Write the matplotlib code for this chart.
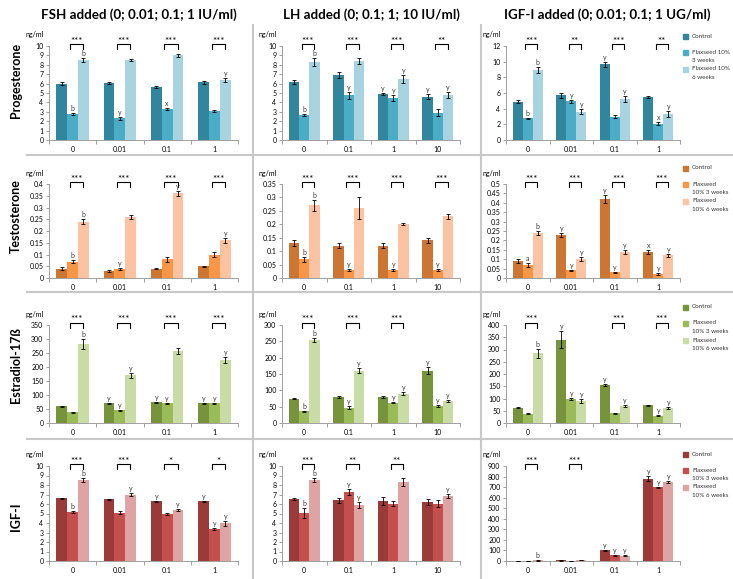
import matplotlib.pyplot as plt
from matplotlib.lines import Line2D
from matplotlib.patches import Rectangle
from matplotlib.ticker import FuncFormatter, MultipleLocator
import numpy as np

plt.rcParams['font.family'] = ['Lato', 'DejaVu Sans']

W, H = 733, 579

fsh_doses = ['0', '0.01', '0.1', '1']
lh_doses = ['0', '0.1', '1', '10']
igf_doses = ['0', '0.01', '0.1', '1']

col_titles = ['FSH added (0; 0.01; 0.1; 1 IU/ml)',
              'LH added (0; 0.1; 1; 10 IU/ml)',
              'IGF-I added (0; 0.01; 0.1; 1 UG/ml)']
row_titles = ['Progesterone', 'Testosterone', 'Estradiol-17ß', 'IGF-I']
units = ['ng/ml', 'ng/ml', 'pg/ml', 'ng/ml']

legend_first = ['Control', 'Flaxseed 10%\n3 weeks', 'Flaxseed 10%\n6 weeks']
legend_other = ['Control', 'Flaxseed\n10% 3 weeks', 'Flaxseed\n10% 6 weeks']

# each inner list: control, flaxseed 3 weeks, flaxseed 6 weeks
prog_fsh = [[6.0, 2.8, 8.5], [6.1, 2.3, 8.55], [5.65, 3.3, 9.0], [6.15, 3.1, 6.35]]
prog_fsh_err = [[0.15, 0.1, 0.2], [0.1, 0.15, 0.1], [0.1, 0.1, 0.2], [0.15, 0.1, 0.2]]
prog_fsh_lab = [['', 'b', 'b'], ['', 'y', ''], ['', 'x', ''], ['', '', 'y']]
prog_fsh_sig = ['***', '***', '***', '***']

prog_lh = [[6.2, 2.7, 8.3], [6.9, 4.75, 8.4], [4.85, 4.5, 6.5], [4.6, 2.9, 4.8]]
prog_lh_err = [[0.2, 0.1, 0.4], [0.35, 0.35, 0.3], [0.1, 0.3, 0.4], [0.25, 0.35, 0.35]]
prog_lh_lab = [['', 'b', 'b'], ['', 'y', ''], ['y', 'y', 'y'], ['y', '', 'y']]
prog_lh_sig = ['***', '***', '***', '**']

prog_igf = [[4.9, 2.75, 8.95], [5.7, 4.95, 3.6], [9.65, 3.0, 5.2], [5.45, 2.1, 3.35]]
prog_igf_err = [[0.2, 0.1, 0.35], [0.35, 0.2, 0.3], [0.3, 0.15, 0.4], [0.15, 0.2, 0.35]]
prog_igf_lab = [['', 'b', 'b'], ['', 'y', 'y'], ['y', '', 'y'], ['', 'x', 'y']]
prog_igf_sig = ['***', '**', '***', '**']

test_fsh = [[0.04, 0.07, 0.24], [0.03, 0.04, 0.26], [0.04, 0.08, 0.36], [0.05, 0.10, 0.16]]
test_fsh_err = [[0.005, 0.005, 0.01], [0.005, 0.004, 0.01], [0.003, 0.01, 0.01], [0.003, 0.01, 0.01]]
test_fsh_lab = [['', 'b', 'b'], ['', 'y', ''], ['', '', 'y'], ['', '', 'y']]
test_fsh_sig = ['***', '***', '***', '***']

test_lh = [[0.13, 0.07, 0.27], [0.12, 0.03, 0.26], [0.12, 0.03, 0.20], [0.14, 0.03, 0.23]]
test_lh_err = [[0.01, 0.01, 0.02], [0.01, 0.003, 0.04], [0.01, 0.005, 0.003], [0.01, 0.003, 0.01]]
test_lh_lab = [['', 'b', 'b'], ['', 'y', ''], ['', 'y', ''], ['', 'y', '']]
test_lh_sig = ['***', '***', '***', '***']

test_igf = [[0.09, 0.07, 0.24], [0.23, 0.04, 0.10], [0.42, 0.03, 0.14], [0.14, 0.02, 0.12]]
test_igf_err = [[0.01, 0.01, 0.01], [0.01, 0.005, 0.01], [0.02, 0.003, 0.01], [0.01, 0.005, 0.01]]
test_igf_lab = [['', 'a', 'b'], ['y', 'y', 'y'], ['y', 'y', 'y'], ['x', 'y', 'y']]
test_igf_sig = ['***', '***', '***', '***']

estr_fsh = [[60, 38, 282], [70, 45, 170], [74, 70, 257], [71, 70, 226]]
estr_fsh_err = [[2, 2, 18], [2, 3, 8], [2, 2, 10], [2, 2, 10]]
estr_fsh_lab = [['', '', 'b'], ['y', 'y', 'y'], ['y', 'y', ''], ['y', 'y', 'y']]
estr_fsh_sig = ['***', '***', '***', '***']

estr_lh = [[74, 36, 255], [80, 47, 160], [80, 62, 90], [160, 53, 68]]
estr_lh_err = [[2, 2, 6], [3, 4, 8], [2, 2, 5], [10, 3, 3]]
estr_lh_lab = [['', 'b', 'b'], ['', 'y', 'y'], ['', 'y', 'y'], ['y', 'y', 'y']]
estr_lh_sig = ['***', '***', '***', '']

estr_igf = [[63, 38, 285], [340, 98, 88], [155, 40, 70], [72, 30, 63]]
estr_igf_err = [[2, 2, 18], [35, 3, 8], [3, 2, 3], [3, 2, 4]]
estr_igf_lab = [['', '', 'b'], ['y', 'y', 'y'], ['y', '', 'y'], ['', 'y', 'y']]
estr_igf_sig = ['***', '', '***', '***']

igf_fsh = [[6.6, 5.2, 8.5], [6.5, 5.1, 7.0], [6.3, 4.95, 5.35], [6.3, 3.4, 3.95]]
igf_fsh_err = [[0.05, 0.1, 0.2], [0.05, 0.15, 0.2], [0.05, 0.15, 0.1], [0.05, 0.1, 0.25]]
igf_fsh_lab = [['', 'b', 'b'], ['', '', 'y'], ['y', '', 'y'], ['y', 'y', 'y']]
igf_fsh_sig = ['***', '***', '*', '*']

igf_lh = [[6.5, 5.05, 8.5], [6.4, 7.25, 5.9], [6.3, 6.05, 8.3], [6.2, 6.05, 6.85]]
igf_lh_err = [[0.1, 0.5, 0.2], [0.25, 0.3, 0.35], [0.45, 0.3, 0.4], [0.35, 0.35, 0.25]]
igf_lh_lab = [['', 'b', 'b'], ['', 'y', 'y'], ['', '', ''], ['', '', 'y']]
igf_lh_sig = ['***', '**', '**', '']

igf_igf = [[3, 2, 5], [5, 3, 8], [100, 55, 52], [780, 700, 750]]
igf_igf_err = [[1, 1, 1], [1, 1, 1], [5, 3, 5], [25, 5, 10]]
igf_igf_lab = [['', '', 'b'], ['', '', ''], ['y', 'y', 'y'], ['y', 'y', 'y']]
igf_igf_sig = ['***', '***', '', '']

colors = [['#31859C', '#4BACC6', '#A8D3E1'],
          ['#CD7634', '#F79646', '#FBC3A2'],
          ['#77933C', '#9BBB59', '#C9DCA6'],
          ['#9B3B39', '#C4504D', '#DEA4A3']]

# pixel boxes of the plot areas (left, right) and (top, zero line)
col_px = [(49, 238), (282, 460), (506, 680)]
row_px = [(46, 140), (184, 278), (325, 423), (466, 561)]
yscales = [[(10, 1), (10, 1), (12, 2)],
           [(0.4, 0.05), (0.35, 0.05), (0.5, 0.05)],
           [(350, 50), (300, 50), (400, 50)],
           [(10, 1), (10, 1), (900, 100)]]
legend_top = [36, 168, 307, 454]

panels = [
    [(fsh_doses, prog_fsh, prog_fsh_err, prog_fsh_lab, prog_fsh_sig),
     (lh_doses, prog_lh, prog_lh_err, prog_lh_lab, prog_lh_sig),
     (igf_doses, prog_igf, prog_igf_err, prog_igf_lab, prog_igf_sig)],
    [(fsh_doses, test_fsh, test_fsh_err, test_fsh_lab, test_fsh_sig),
     (lh_doses, test_lh, test_lh_err, test_lh_lab, test_lh_sig),
     (igf_doses, test_igf, test_igf_err, test_igf_lab, test_igf_sig)],
    [(fsh_doses, estr_fsh, estr_fsh_err, estr_fsh_lab, estr_fsh_sig),
     (lh_doses, estr_lh, estr_lh_err, estr_lh_lab, estr_lh_sig),
     (igf_doses, estr_igf, estr_igf_err, estr_igf_lab, estr_igf_sig)],
    [(fsh_doses, igf_fsh, igf_fsh_err, igf_fsh_lab, igf_fsh_sig),
     (lh_doses, igf_lh, igf_lh_err, igf_lh_lab, igf_lh_sig),
     (igf_doses, igf_igf, igf_igf_err, igf_igf_lab, igf_igf_sig)],
]

fig = plt.figure(figsize=(W / 100, H / 100), dpi=100)


def fx(px):
    return px / W


def fy(py):
    return 1 - py / H


grey = '#C8C8C8'
for x in [253, 481]:
    fig.add_artist(Line2D([fx(x), fx(x)], [fy(25), fy(579)], color=grey, lw=1.5))
for y in [155, 292, 439]:
    fig.add_artist(Line2D([fx(27), fx(733)], [fy(y), fy(y)], color=grey, lw=1.5))

title_x = [139, 371, 607]
for t, x in zip(col_titles, title_x):
    fig.text(fx(x), fy(15), t, ha='center', va='center', fontsize=9.6, fontweight='bold')

label_y = [80, 216, 365, 517]
for t, y in zip(row_titles, label_y):
    fig.text(fx(16), fy(y), t, ha='center', va='center', rotation=90,
             fontsize=9, fontweight='bold')

w = 0.23
offs = [-w, 0, w]
for r in range(4):
    for c in range(3):
        doses, means, errs, labs, sig = panels[r][c]
        l, rt = col_px[c]
        top, bot = row_px[r]
        ax = fig.add_axes([fx(l), fy(bot), (rt - l) / W, (bot - top) / H])
        hpx = bot - top
        x = np.arange(len(doses))
        m = np.array(means)
        e = np.array(errs)
        for k in range(3):
            ax.bar(x + offs[k], m[:, k], width=w, color=colors[r][k], edgecolor='none', zorder=2)
            ax.errorbar(x + offs[k], m[:, k], yerr=e[:, k], fmt='none', ecolor='black',
                        elinewidth=0.6, capsize=1.4, capthick=0.6, zorder=3)
            for i in range(len(doses)):
                if labs[i][k]:
                    ax.annotate(labs[i][k], (x[i] + offs[k], m[i, k] + e[i, k]),
                                xytext=(0, 1), textcoords='offset pixels',
                                ha='center', va='bottom', fontsize=5, color='#3A3A3A')
        tr = ax.get_xaxis_transform()
        for i, s in enumerate(sig):
            if not s:
                continue
            x0, x1 = i - 0.06, i + w - 0.01
            yt = 1 + 2 / hpx
            yb = 1 - 3 / hpx
            ax.plot([x0, x0, x1, x1], [yb, yt, yt, yb], color='black', lw=0.8,
                    transform=tr, clip_on=False)
            ax.text((x0 + x1) / 2, 1 + 5 / hpx, s, transform=tr, ha='center',
                    va='center', fontsize=7)
        ymax, step = yscales[r][c]
        ax.set_ylim(0, ymax)
        ax.yaxis.set_major_locator(MultipleLocator(step))
        ax.yaxis.set_major_formatter(FuncFormatter(lambda v, p: '%g' % round(v, 3)))
        ax.set_xlim(-0.5, len(doses) - 0.5)
        ax.set_xticks(x)
        ax.set_xticklabels(doses)
        ax.set_xticks(np.arange(len(doses) + 1) - 0.5, minor=True)
        ax.tick_params(axis='x', which='major', length=0, labelsize=5, pad=4)
        ax.tick_params(axis='x', which='minor', length=3, color='#A0A0A0', width=0.7)
        ax.tick_params(axis='y', length=2, color='#A0A0A0', width=0.7, labelsize=5, pad=2)
        for sp in ['top', 'right']:
            ax.spines[sp].set_visible(False)
        for sp in ['left', 'bottom']:
            ax.spines[sp].set_color('#A0A0A0')
            ax.spines[sp].set_linewidth(0.7)
        ax.annotate(units[r], (0, 1), xycoords='axes fraction', xytext=(-14, 11),
                    textcoords='offset pixels', ha='center', va='center', fontsize=5)

        if c == 2:
            names = legend_first if r == 0 else legend_other
            y0 = legend_top[r]
            ys = [y0, y0 + 16, y0 + 33]
            for k, name in enumerate(names):
                fig.add_artist(Rectangle((fx(683), fy(ys[k] + 2.5)), 5 / W, 5 / H,
                                         color=colors[r][k], transform=fig.transFigure))
                for j, line in enumerate(name.split('\n')):
                    fig.text(fx(692), fy(ys[k] + j * 8.5), line, ha='left', va='center',
                             fontsize=4.5, color='#333333')

fig.savefig('out.png', dpi=100)
